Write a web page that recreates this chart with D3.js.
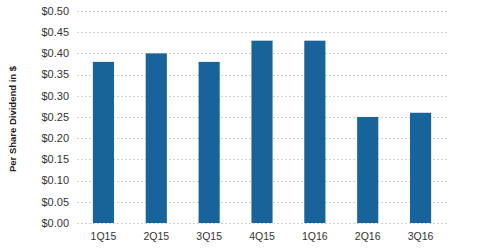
<!DOCTYPE html>
<html>
<head>
<meta charset="utf-8">
<script src="https://cdn.jsdelivr.net/npm/d3@7"></script>
<style>
  body { margin: 0; background: #fff; }
  svg { display: block; }
</style>
</head>
<body>
<div id="chart"></div>
<script>
const quarters = ["1Q15", "2Q15", "3Q15", "4Q15", "1Q16", "2Q16", "3Q16"]
const dividends = [0.38, 0.40, 0.38, 0.43, 0.43, 0.25, 0.26]
const yTicks = [0, 0.05, 0.10, 0.15, 0.20, 0.25, 0.30, 0.35, 0.40, 0.45, 0.50]

const WIDTH = 480
const HEIGHT = 251
const MARGIN = { TOP: 11, RIGHT: 33, BOTTOM: 28, LEFT: 77 }

const svg = d3.select("#chart")
    .append("svg")
    .attr("width", WIDTH)
    .attr("height", HEIGHT)

const x = d3.scaleBand()
    .domain(quarters)
    .range([MARGIN.LEFT, WIDTH - MARGIN.RIGHT])
    .paddingInner(0.6)
    .paddingOuter(0.3)

const y = d3.scaleLinear()
    .domain([0, 0.5])
    .range([HEIGHT - MARGIN.BOTTOM, MARGIN.TOP])

// dotted grid
svg.append("g")
    .selectAll("line")
    .data(yTicks)
    .join("line")
    .attr("x1", MARGIN.LEFT)
    .attr("x2", WIDTH - MARGIN.RIGHT)
    .attr("y1", d => Math.round(y(d)) + 0.5)
    .attr("y2", d => Math.round(y(d)) + 0.5)
    .attr("stroke", "#d0d0d0")
    .attr("stroke-dasharray", "2,2")

// y tick labels
svg.append("g")
    .attr("font-family", "Liberation Sans, Arial, sans-serif")
    .attr("font-size", 11)
    .attr("fill", "#333")
    .attr("text-anchor", "end")
    .selectAll("text")
    .data(yTicks)
    .join("text")
    .attr("x", MARGIN.LEFT - 8)
    .attr("y", d => y(d))
    .attr("dy", "0.35em")
    .text(d => "$" + d.toFixed(2))

svg.append("g")
    .selectAll("rect")
    .data(dividends)
    .join("rect")
    .attr("x", (d, i) => x(quarters[i]))
    .attr("width", x.bandwidth())
    .attr("y", d => y(d))
    .attr("height", d => y(0) - y(d))
    .attr("fill", "#18649a")

// x labels
svg.append("g")
    .attr("font-family", "Liberation Sans, Arial, sans-serif")
    .attr("font-size", 10.5)
    .attr("fill", "#333")
    .attr("text-anchor", "middle")
    .selectAll("text")
    .data(quarters)
    .join("text")
    .attr("x", d => x(d) + x.bandwidth() / 2)
    .attr("y", HEIGHT - MARGIN.BOTTOM + 17)
    .text(d => d)

svg.append("text")
    .attr("transform", "translate(16, 119) rotate(-90)")
    .attr("font-family", "Liberation Sans, Arial, sans-serif")
    .attr("font-size", 9.5)
    .attr("font-weight", "bold")
    .attr("fill", "#222")
    .attr("text-anchor", "middle")
    .text("Per Share Dividend in $")
</script>
</body>
</html>
